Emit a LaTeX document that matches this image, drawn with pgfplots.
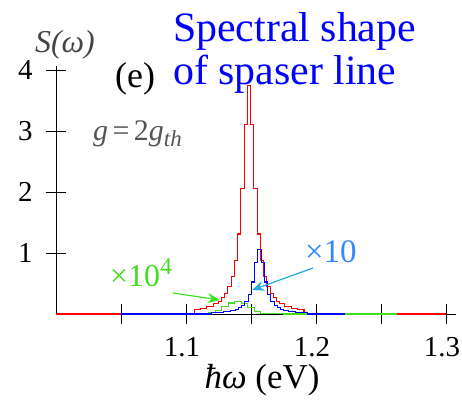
\documentclass[border=0pt]{standalone}
\usepackage{fontspec}
\setmainfont{LiberationSerif}[Extension=.ttf, UprightFont=*-Regular, ItalicFont=*-Italic, BoldFont=*-Bold, BoldItalicFont=*-BoldItalic]
\usepackage{pgfplots}
\pgfplotsset{compat=1.18}
\usetikzlibrary{arrows.meta}
\definecolor{cgreen}{HTML}{44DD22}
\definecolor{cgray}{HTML}{555555}
\definecolor{cdgray}{HTML}{444444}
\definecolor{cblue}{HTML}{3388FF}
\definecolor{carrow}{HTML}{22AADD}
\begin{document}
\begin{tikzpicture}
\begin{axis}[
  scale only axis, width=400.4bp, height=248.3bp,
  xmin=1.0, xmax=1.308, ymin=0, ymax=4.07,
  axis lines=left, axis line style={-, line width=1pt},
  tick align=center, major tick length=20bp,
  tick style={line width=0.9pt, black},
  xtick={1.05,1.1,1.15,1.2,1.25,1.3},
  xticklabels={{},1.1,{},1.2,{},1.3},
  ytick={1,2,3,4},
  /pgf/number format/assume math mode=true,
  ticklabel style={font=\fontsize{29}{29}\selectfont},
  xticklabel style={yshift=-10bp, xshift=-4bp},
  yticklabel style={xshift=-10bp},
  clip=false,
  every axis plot/.append style={line width=1.1pt},
]
\coordinate (BL) at (rel axis cs:0,0);
% red
\addplot[red, const plot mark mid] coordinates {
(1.0,0) (1.104,0) (1.1085,0.070) (1.1135,0.090) (1.1185,0.122) (1.1235,0.173)
(1.126,0.2115) (1.1285,0.264) (1.131,0.337) (1.1335,0.444) (1.136,0.608)
(1.1385,0.871) (1.141,1.312) (1.1435,2.053) (1.146,3.108) (1.1485,3.75)
(1.151,3.108) (1.1535,2.053) (1.156,1.312) (1.1585,0.871) (1.161,0.608)
(1.1635,0.444) (1.166,0.337) (1.1685,0.264) (1.171,0.2115) (1.1735,0.173)
(1.1785,0.122) (1.1835,0.090) (1.1885,0.070) (1.193,0) (1.3,0)};
% green
\addplot[cgreen, const plot mark mid] coordinates {
(1.05,0) (1.115,0) (1.12,0.02) (1.125,0.06) (1.13,0.13) (1.135,0.18) (1.14,0.2)
(1.145,0.17) (1.15,0.1) (1.155,0.04) (1.16,0.015) (1.17,0.005) (1.18,0) (1.262,0)};
% blue
\addplot[blue, const plot mark mid] coordinates {
(1.05,0) (1.118,0) (1.1215,0.0198) (1.1265,0.0276) (1.1315,0.0404) (1.1365,0.0618)
(1.139,0.0792) (1.1415,0.105) (1.144,0.145) (1.1465,0.21) (1.149,0.323)
(1.1515,0.525) (1.154,0.84) (1.1565,1.05) (1.159,0.84) (1.1615,0.525)
(1.164,0.323) (1.1665,0.21) (1.169,0.145) (1.1715,0.105) (1.174,0.0792)
(1.1765,0.0618) (1.1815,0.0404) (1.1865,0.0276) (1.1915,0.0198) (1.195,0) (1.222,0)};
% arrows
\draw[cgreen, line width=1.2pt, -{Stealth[length=12bp, width=10bp]}] (axis cs:1.09,0.344) -- (axis cs:1.126,0.23);
\draw[carrow, line width=1.2pt, -{Stealth[length=12bp, width=10bp]}] (axis cs:1.1977,0.754) -- (axis cs:1.1508,0.393);
% texts
\node[anchor=base west, inner sep=0, text=blue, font=\fontsize{42}{45}\selectfont] at (axis cs:1.09,4.46) {Spectral shape};
\node[anchor=base west, inner sep=0, text=blue, font=\fontsize{42}{45}\selectfont] at (axis cs:1.09,3.77) {of spaser line};
\node[anchor=base west, inner sep=0, font=\fontsize{36}{36}\selectfont] at (axis cs:1.0454,3.705) {(e)};
\node[anchor=base west, inner sep=0, text=cgray, font=\fontsize{30}{30}\selectfont] at (axis cs:1.0285,2.85) {\textit{g}\hspace{0.15em}=\hspace{0.15em}2\textit{g}\raisebox{-0.22em}{\fontsize{23}{23}\selectfont\itshape th}};
\node[anchor=base west, inner sep=0, text=cdgray, font=\fontsize{32}{32}\selectfont] at (axis cs:0.9838,4.28) {\textit{S(ω)}};
\node[anchor=base, inner sep=0, font=\fontsize{35}{35}\selectfont] at (axis cs:1.1585,-1.213) {\textit{ħω} (eV)};
\node[anchor=base west, inner sep=0, text=cgreen, font=\fontsize{32}{32}\selectfont] at (axis cs:1.0415,0.443) {×10\raisebox{0.4em}{\fontsize{24}{24}\selectfont 4}};
\node[anchor=base west, inner sep=0, text=cblue, font=\fontsize{33}{33}\selectfont] at (axis cs:1.1915,0.836) {×10};
\end{axis}
\pgfresetboundingbox
\path[use as bounding box] ([shift={(-56bp,-86bp)}]BL) rectangle ([shift={(406bp,314bp)}]BL);
\end{tikzpicture}
\end{document}
